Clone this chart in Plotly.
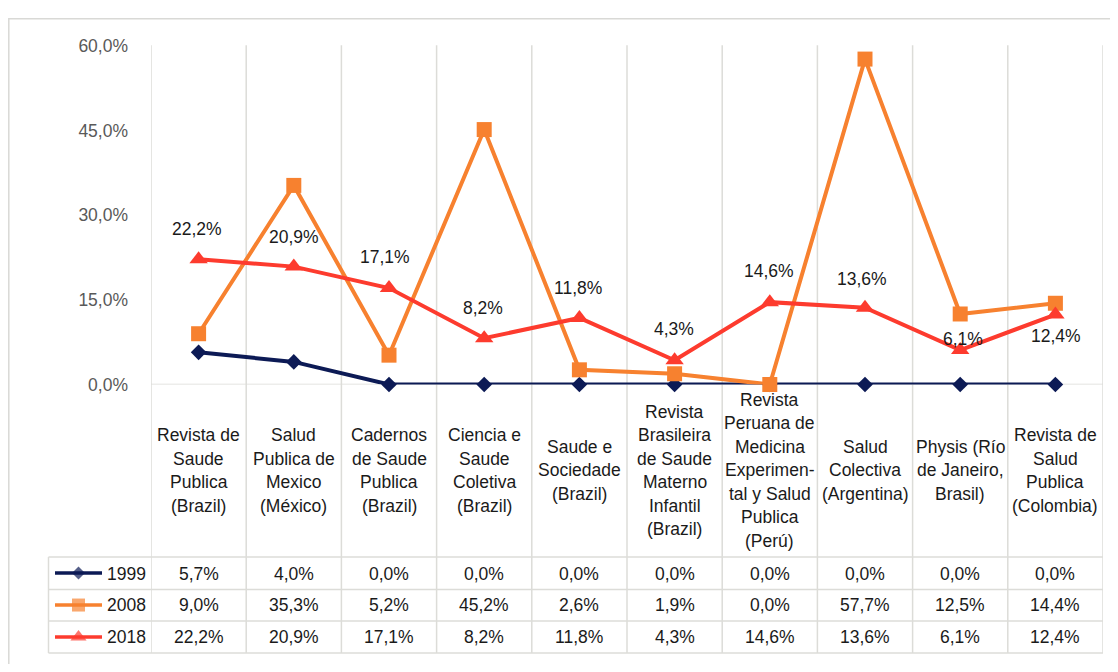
import plotly.graph_objects as go

# ---------------- data ----------------
categories = [
    "Revista de<br>Saude<br>Publica<br>(Brazil)",
    "Salud<br>Publica de<br>Mexico<br>(México)",
    "Cadernos<br>de Saude<br>Publica<br>(Brazil)",
    "Ciencia e<br>Saude<br>Coletiva<br>(Brazil)",
    "Saude e<br>Sociedade<br>(Brazil)",
    "Revista<br>Brasileira<br>de Saude<br>Materno<br>Infantil<br>(Brazil)",
    "Revista<br>Peruana de<br>Medicina<br>Experimen-<br>tal y Salud<br>Publica<br>(Perú)",
    "Salud<br>Colectiva<br>(Argentina)",
    "Physis (Río<br>de Janeiro,<br>Brasil)",
    "Revista de<br>Salud<br>Publica<br>(Colombia)",
]
series_names = ["1999", "2008", "2018"]
v1999 = [5.7, 4.0, 0.0, 0.0, 0.0, 0.0, 0.0, 0.0, 0.0, 0.0]
v2008 = [9.0, 35.3, 5.2, 45.2, 2.6, 1.9, 0.0, 57.7, 12.5, 14.4]
v2018 = [22.2, 20.9, 17.1, 8.2, 11.8, 4.3, 14.6, 13.6, 6.1, 12.4]
y_ticks = [0, 15, 30, 45, 60]

# ---------------- style ----------------
OFF = 8                      # page body margin
W, H = 1118 - 2 * OFF, 672 - 2 * OFF
FONT = "Liberation Sans, Arial, sans-serif"
FS = 17.5
TXT = "#1a1a1a"
colors = ["#0c1a55", "#f7812f", "#fd3b2e"]
symbols = ["diamond", "square", "triangle-up"]
msizes = [12, 15, 16]
label_yshift = [30, 30, 31, 30, 30, 31, 31, 29, 11, -21]
label_xshift = [-2, 0, -4, -1, -1, -1, -1, -3, 3, 1]
GRID = "#dcdcd8"
LINE_H = 23.5

def px(x):
    return (x - OFF) / W

def py(y):
    return 1 - (y - OFF) / H

def fmt(v):
    return f"{v:.1f}%".replace(".", ",")

x_idx = list(range(len(categories)))
all_series = [v1999, v2008, v2018]

fig = go.Figure()
for name, vals, c, s, ms in zip(series_names, all_series, colors, symbols, msizes):
    fig.add_trace(go.Scatter(
        x=x_idx, y=vals, mode="lines+markers", name=name,
        line=dict(color=c, width=4),
        marker=dict(symbol=s, size=ms, color=c, line=dict(width=0)),
        cliponaxis=False, showlegend=False, hoverinfo="skip",
    ))

# legend samples inside the table (auxiliary axes)
for k, (c, s, ms) in enumerate(zip(colors, symbols, msizes)):
    fig.add_trace(go.Scatter(
        x=[0, 0.5, 1], y=[2.5 - k] * 3, mode="lines+markers",
        line=dict(color=c, width=3.5),
        marker=dict(symbol=s, size=[0, ms - 2, 0], color=c, line=dict(width=0)),
        xaxis="x2", yaxis="y2", showlegend=False, hoverinfo="skip", cliponaxis=False,
    ))

annotations = []
# data labels for 2018
for i, v in enumerate(v2018):
    annotations.append(dict(
        x=i, y=v, xref="x", yref="y", text=fmt(v), showarrow=False,
        yshift=label_yshift[i], xshift=label_xshift[i],
        font=dict(family=FONT, size=FS, color=TXT),
    ))
# category labels (one annotation per line for Excel-like line spacing)
for i, cat in enumerate(categories):
    lines = cat.split("<br>")
    n = len(lines)
    for j, ln in enumerate(lines):
        annotations.append(dict(
            x=i, y=py(474.5), xref="x", yref="paper", text=ln, showarrow=False,
            yshift=((n - 1) / 2 - j) * LINE_H,
            yanchor="middle", xanchor="center",
            font=dict(family=FONT, size=FS, color=TXT),
        ))
# table rows
row_centers = [581, 613.5, 646.5]
for name, vals, yc in zip(series_names, all_series, row_centers):
    annotations.append(dict(
        x=px(105), y=py(yc), xref="paper", yref="paper", text=name, showarrow=False,
        xanchor="left", yanchor="middle",
        font=dict(family=FONT, size=FS, color=TXT),
    ))
    for i, v in enumerate(vals):
        annotations.append(dict(
            x=i, y=py(yc), xref="x", yref="paper", text=fmt(v), showarrow=False,
            xanchor="center", yanchor="middle",
            font=dict(family=FONT, size=FS, color=TXT),
        ))

shapes = []
# outer border
shapes.append(dict(type="rect", xref="paper", yref="paper",
                   x0=px(8.8), x1=px(1125), y0=py(700), y1=py(8.8),
                   line=dict(color="#d9d9d6", width=1.5), layer="below"))
# vertical grid / table column lines
for b in range(len(categories) + 1):
    shapes.append(dict(type="line", xref="x", yref="paper",
                       x0=b - 0.5, x1=b - 0.5, y0=py(36), y1=py(663),
                       line=dict(color=GRID, width=1.5), layer="below"))
# table left edge
shapes.append(dict(type="line", xref="paper", yref="paper",
                   x0=px(48.5), x1=px(48.5), y0=py(564), y1=py(663),
                   line=dict(color=GRID, width=1.5), layer="below"))
# table horizontal lines
for yl in [564, 597.5, 630, 663]:
    shapes.append(dict(type="line", xref="paper", yref="paper",
                       x0=px(48.5), x1=px(1103), y0=py(yl), y1=py(yl),
                       line=dict(color=GRID, width=1.5), layer="below"))
# zero axis line
shapes.append(dict(type="line", xref="x", yref="y",
                   x0=-0.5, x1=len(categories) - 0.5, y0=0, y1=0,
                   line=dict(color=GRID, width=1.5), layer="below"))

fig.update_layout(
    width=W, height=H, autosize=False,
    margin=dict(l=0, r=0, t=0, b=0),
    paper_bgcolor="white", plot_bgcolor="rgba(0,0,0,0)",
    font=dict(family=FONT, size=FS, color=TXT),
    xaxis=dict(domain=[px(151), px(1103)], range=[-0.5, len(categories) - 0.5],
               showgrid=False, zeroline=False, showline=False, showticklabels=False,
               fixedrange=True),
    yaxis=dict(domain=[py(386), py(37)], range=[0, 60],
               tickvals=y_ticks, ticktext=[fmt(t) for t in y_ticks],
               showgrid=False, zeroline=False, showline=False, ticks="",
               ticklabelstandoff=22,
               tickfont=dict(family=FONT, size=FS, color="#595959"),
               fixedrange=True),
    xaxis2=dict(domain=[px(55), px(102)], range=[0, 1], visible=False,
                anchor="y2", fixedrange=True),
    yaxis2=dict(domain=[py(663), py(564)], range=[0, 3], visible=False,
                anchor="x2", fixedrange=True),
    annotations=annotations,
    shapes=shapes,
    showlegend=False,
)

fig.write_html("out.html")
